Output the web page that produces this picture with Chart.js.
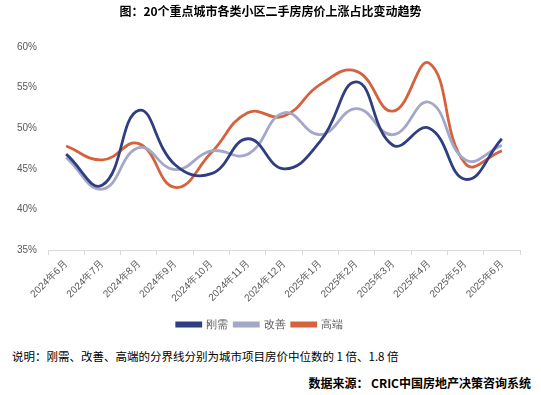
<!DOCTYPE html>
<html>
<head>
<meta charset="utf-8">
<script src="https://cdn.jsdelivr.net/npm/chart.js@4/dist/chart.umd.min.js"></script>
<style>
  body { margin: 0; background: #fff; font-family: "Noto Sans CJK SC", "Noto Sans", sans-serif; }
  #wrap { position: relative; width: 541px; height: 395px; overflow: hidden; }
  #title { position: absolute; top: 2px; left: 0; width: 541px; text-align: center; font-size: 12px; font-weight: bold; color: #000; }
  #box { position: absolute; top: 0; left: 0; width: 541px; height: 340px; }
  #note { position: absolute; top: 348px; left: 12px; font-size: 11.5px; color: #000; }
  #src { position: absolute; top: 374px; right: 10px; font-size: 12px; font-weight: bold; color: #000; }
</style>
</head>
<body>
<div id="wrap">
  <div id="box"><canvas id="line-chart"></canvas></div>
  <div id="title">图：20个重点城市各类小区二手房房价上涨占比变动趋势</div>
  <div id="note">说明：刚需、改善、高端的分界线分别为城市项目房价中位数的 1 倍、1.8 倍</div>
  <div id="src">数据来源： CRIC中国房地产决策咨询系统</div>
</div>
<script>
var months = ["2024年6月", "2024年7月", "2024年8月", "2024年9月", "2024年10月", "2024年11月", "2024年12月",
              "2025年1月", "2025年2月", "2025年3月", "2025年4月", "2025年5月", "2025年6月"]
// values in %
var gangxu = [46.8, 43.0, 52.2, 45.5, 44.4, 48.7, 45.0, 48.4, 55.7, 47.9, 50.0, 43.7, 48.7]
var gaishan = [46.4, 42.5, 47.6, 44.9, 47.2, 46.8, 51.9, 49.2, 52.4, 49.2, 53.2, 46.1, 47.9]
var gaoduan = [47.8, 46.1, 48.1, 42.7, 47.0, 51.9, 51.5, 55.4, 57.0, 52.1, 58.0, 45.6, 47.2]
var yTicks = [35, 40, 45, 50, 55, 60]

function mkSet(label, data, color) {
    return {
        label: label,
        data: data,
        borderColor: color,
        backgroundColor: color,
        borderWidth: 2.8,
        pointRadius: 0,
        tension: 0.45,
        fill: false
    }
}

new Chart(document.getElementById("line-chart"), {
    type: 'line',
    data: {
        labels: months,
        datasets: [
            mkSet("刚需", gangxu, "#2f3e80"),
            mkSet("改善", gaishan, "#a4a7c9"),
            mkSet("高端", gaoduan, "#d4623c")
        ]
    },
    options: {
        responsive: true,
        maintainAspectRatio: false,
        animation: false,
        layout: { padding: { top: 47, right: 21, left: 0, bottom: 0 } },
        plugins: {
            legend: {
                position: 'bottom',
                labels: {
                    boxWidth: 24, boxHeight: 3, padding: 6,
                    color: "#595959",
                    font: { size: 11 }
                }
            },
            tooltip: { enabled: false }
        },
        scales: {
            x: {
                offset: true,
                grid: { drawOnChartArea: false, color: "#d9d9d9", tickLength: 5, offset: true },
                border: { color: "#d9d9d9" },
                ticks: {
                    maxRotation: 45, minRotation: 45, autoSkip: false,
                    color: "#595959",
                    font: { size: 10 }
                },
                afterFit: function (s) { s.height = 63 }
            },
            y: {
                min: 35, max: 60,
                afterBuildTicks: function (s) { s.ticks = yTicks.map(function (v) { return { value: v } }) },
                grid: { display: false },
                border: { display: false },
                ticks: {
                    color: "#595959",
                    font: { size: 10 },
                    callback: function (v) { return v + "%" }
                },
                afterFit: function (s) { s.width = 48 }
            }
        }
    }
});
</script>
</body>
</html>
